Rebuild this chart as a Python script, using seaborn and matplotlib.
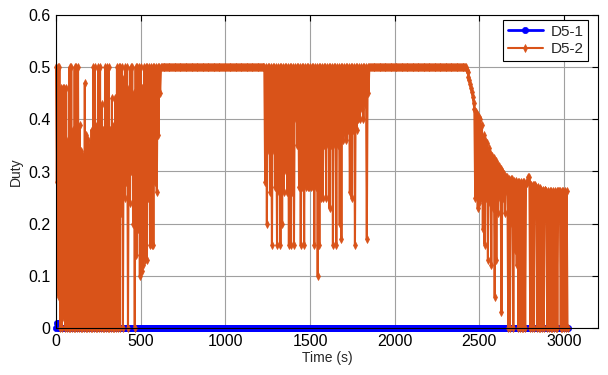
import numpy as np
import pandas as pd
import matplotlib
matplotlib.use("Agg")
import matplotlib.pyplot as plt
import seaborn as sns

# ---------------- data (5 s sampling) ----------------
step_s = 5

# D5-2, t = 0 .. 615 s
seg_a = [
    0.50, 0.28, 0.50, 0.06, 0.50, 0.00, 0.46, 0.00, 0.46, 0.02,   # 0
    0.46, 0.00, 0.46, 0.00, 0.36, 0.00, 0.50, 0.00, 0.50, 0.00,   # 50
    0.38, 0.00, 0.50, 0.00, 0.50, 0.00, 0.50, 0.00, 0.39, 0.00,   # 100
    0.34, 0.00, 0.33, 0.00, 0.47, 0.00, 0.37, 0.00, 0.36, 0.00,   # 150
    0.35, 0.00, 0.38, 0.00, 0.50, 0.00, 0.50, 0.00, 0.39, 0.00,   # 200
    0.50, 0.00, 0.50, 0.00, 0.43, 0.00, 0.38, 0.00, 0.50, 0.00,   # 250
    0.50, 0.00, 0.50, 0.00, 0.38, 0.00, 0.44, 0.00, 0.39, 0.00,   # 300
    0.44, 0.00, 0.50, 0.00, 0.50, 0.00, 0.50, 0.22, 0.50, 0.00,   # 350
    0.48, 0.25, 0.50, 0.28, 0.50, 0.00, 0.46, 0.24, 0.50, 0.30,   # 400
    0.50, 0.20, 0.45, 0.00, 0.50, 0.14, 0.50, 0.19, 0.50, 0.10,   # 450
    0.50, 0.11, 0.46, 0.12, 0.50, 0.13, 0.50, 0.13, 0.50, 0.25,   # 500
    0.50, 0.16, 0.50, 0.16, 0.50, 0.16, 0.50, 0.28, 0.50, 0.26,   # 550
    0.50, 0.37, 0.50, 0.45,                                       # 600
]
# D5-2, t = 620 .. 1225 s (held at 0.5)
flat_1 = [0.5] * 122
# D5-2, t = 1230 .. 1845 s
seg_b = [
    0.5, 0.28, 0.5, 0.20, 0.5, 0.34, 0.5, 0.26, 0.5, 0.16,   # 1230
    0.5, 0.34, 0.5, 0.27, 0.5, 0.16, 0.5, 0.26, 0.5, 0.16,   # 1280
    0.5, 0.20, 0.5, 0.26, 0.5, 0.30, 0.5, 0.26, 0.5, 0.16,   # 1330
    0.5, 0.16, 0.5, 0.26, 0.5, 0.16, 0.5, 0.40, 0.5, 0.35,   # 1380
    0.5, 0.27, 0.5, 0.16, 0.5, 0.27, 0.5, 0.16, 0.5, 0.27,   # 1430
    0.5, 0.27, 0.5, 0.27, 0.5, 0.27, 0.5, 0.27, 0.5, 0.16,   # 1480
    0.5, 0.27, 0.5, 0.10, 0.5, 0.16, 0.5, 0.25, 0.5, 0.25,   # 1530
    0.5, 0.35, 0.5, 0.25, 0.5, 0.35, 0.5, 0.23, 0.5, 0.35,   # 1580
    0.5, 0.16, 0.5, 0.35, 0.5, 0.16, 0.5, 0.35, 0.5, 0.20,   # 1630
    0.5, 0.17, 0.5, 0.36, 0.5, 0.37, 0.5, 0.36, 0.5, 0.38,   # 1680
    0.5, 0.26, 0.5, 0.25, 0.5, 0.38, 0.5, 0.16, 0.5, 0.38,   # 1730
    0.5, 0.40, 0.5, 0.40, 0.5, 0.42, 0.5, 0.40, 0.5, 0.43,   # 1780
    0.5, 0.17, 0.5, 0.45,                                     # 1830
]
# D5-2, t = 1850 .. 2420 s (held at 0.5)
flat_2 = [0.5] * 115
# D5-2, t = 2425 .. 3020 s
seg_c = [
    0.495, 0.49, 0.482, 0.475, 0.467, 0.46, 0.452, 0.443, 0.432, 0.42,  # 2425
    0.25, 0.415, 0.41, 0.23, 0.405, 0.24, 0.40, 0.25, 0.39, 0.19,       # 2475
    0.37, 0.16, 0.36, 0.25, 0.355, 0.13, 0.345, 0.24, 0.335, 0.12,      # 2525
    0.33, 0.23, 0.325, 0.06, 0.32, 0.13, 0.315, 0.22, 0.31, 0.25,       # 2575
    0.305, 0.03, 0.30, 0.25, 0.295, 0.22, 0.29, 0.26, 0.29, 0.00,       # 2625
    0.285, 0.00, 0.285, 0.20, 0.285, 0.00, 0.282, 0.15, 0.282, 0.12,    # 2675
    0.28, 0.00, 0.28, 0.00, 0.28, 0.00, 0.28, 0.00, 0.28, 0.00,         # 2725
    0.278, 0.278, 0.29, 0.29, 0.28, 0.00, 0.275, 0.00, 0.275, 0.00,     # 2775
    0.275, 0.274, 0.27, 0.00, 0.27, 0.00, 0.268, 0.00, 0.265, 0.00,     # 2825
    0.265, 0.00, 0.264, 0.264, 0.263, 0.00, 0.263, 0.00, 0.263, 0.00,   # 2875
    0.263, 0.00, 0.263, 0.00, 0.263, 0.00, 0.263, 0.00, 0.263, 0.263,   # 2925
    0.263, 0.00, 0.263, 0.00, 0.263, 0.00, 0.263, 0.00, 0.263, 0.00,    # 2975
]
d5_2 = seg_a + flat_1 + seg_b + flat_2 + seg_c
time_s = [i * step_s for i in range(len(d5_2))]

# D5-1 stays at 0 except a few early samples (time -> value)
d5_1_nonzero = {5: 0.01, 10: 0.01, 85: 0.35}
d5_1 = [d5_1_nonzero.get(t, 0.0) for t in time_s]

x_ticks = [0, 500, 1000, 1500, 2000, 2500, 3000]
y_ticks = [0, 0.1, 0.2, 0.3, 0.4, 0.5, 0.6]
y_tick_labels = ["0", "0.1", "0.2", "0.3", "0.4", "0.5", "0.6"]

# ---------------- plot ----------------
sns.set_style("white")
plt.rcParams["font.family"] = ["Liberation Sans", "DejaVu Sans"]

df = pd.DataFrame({"Time": time_s, "D5-1": d5_1, "D5-2": d5_2})

fig = plt.figure(figsize=(6.08, 3.75), dpi=100)
ax = fig.add_axes([56 / 608, 1 - 328 / 375, 542 / 608, 313 / 375])

blue = "#0000FF"
orange = "#D95319"
sns.lineplot(data=df, x="Time", y="D5-1", ax=ax, color=blue, marker="o",
             markersize=4.5, markeredgecolor=blue, markeredgewidth=0.5,
             linewidth=2, label="D5-1", estimator=None, sort=False,
             clip_on=False)
sns.lineplot(data=df, x="Time", y="D5-2", ax=ax, color=orange, marker="d",
             markersize=4, markeredgecolor=orange, markeredgewidth=0.5,
             linewidth=1.5, label="D5-2", estimator=None, sort=False,
             clip_on=False)

ax.set_xlim(0, 3200)
ax.set_ylim(0, 0.6)
ax.set_xticks(x_ticks)
ax.set_xticklabels([str(v) for v in x_ticks])
ax.set_yticks(y_ticks)
ax.set_yticklabels(y_tick_labels)
ax.grid(True, color="#a0a0a0", linewidth=0.8, linestyle="-")
ax.set_axisbelow(True)
for sp in ax.spines.values():
    sp.set_color("black")
    sp.set_linewidth(0.8)
    sp.set_visible(True)
ax.tick_params(direction="in", top=True, right=True, length=4, width=0.8,
               colors="black", labelsize=11.5, pad=4)
ax.set_xlabel("Time (s)", fontsize=10, labelpad=2)
ax.set_ylabel("Duty", fontsize=10, labelpad=4)

leg = ax.legend(loc="upper right", bbox_to_anchor=(532 / 542, 308 / 313),
                borderaxespad=0, fancybox=False, framealpha=1,
                edgecolor="black", fontsize=11, handlelength=2.3,
                labelspacing=0.25, borderpad=0.3, handletextpad=0.5)
leg.get_frame().set_linewidth(0.8)

fig.savefig("out.png", dpi=100)
